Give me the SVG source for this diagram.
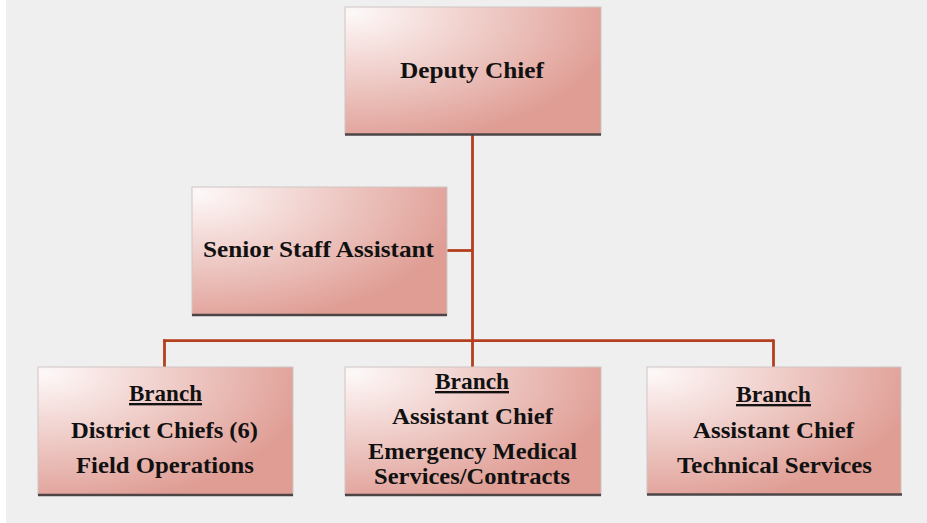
<svg xmlns="http://www.w3.org/2000/svg" width="927" height="523" viewBox="0 0 927 523">
  <defs>
    <radialGradient id="boxFill" cx="0.03" cy="0.05" r="1.05" fx="0.03" fy="0.05">
      <stop offset="0" stop-color="#fdf8f8"/>
      <stop offset="0.45" stop-color="#f0cfcb"/>
      <stop offset="1" stop-color="#df9d94"/>
    </radialGradient>
    <style>
      .box { fill: url(#boxFill); stroke: #cfc6c6; stroke-width: 1; }
      .shadow { stroke: #4d4545; stroke-width: 2.5; fill: none; }
      .link { stroke: #b33f1f; stroke-width: 2.8; fill: none; stroke-linecap: butt; }
      .label { font-family: "Liberation Serif", "Times New Roman", serif; font-weight: bold; font-size: 23.5px; fill: #111111; text-anchor: middle; }
      .head { text-decoration: underline; }
    </style>
  </defs>

  <!-- page -->
  <rect x="0" y="0" width="927" height="523" fill="#efefef"/>
  <rect x="0" y="0" width="6" height="523" fill="#ffffff"/>

  <!-- reporting lines -->
  <g id="connectors">
    <line class="link" x1="472.5" y1="134" x2="472.5" y2="367"/>
    <line class="link" x1="447" y1="250.5" x2="472.5" y2="250.5"/>
    <line class="link" x1="163" y1="340.7" x2="774" y2="340.7"/>
    <line class="link" x1="164.5" y1="339.5" x2="164.5" y2="367"/>
    <line class="link" x1="773.5" y1="339.5" x2="773.5" y2="367"/>
  </g>

  <g id="deputy-chief">
    <rect class="box" x="345" y="7" width="256" height="127"/>
    <line class="shadow" x1="345" y1="134.5" x2="601" y2="134.5"/>
    <text class="label" x="472" y="78" textLength="144" lengthAdjust="spacingAndGlyphs">Deputy Chief</text>
  </g>

  <g id="senior-staff-assistant">
    <rect class="box" x="192" y="187" width="255" height="128"/>
    <line class="shadow" x1="192" y1="315" x2="447" y2="315"/>
    <text class="label" x="318.5" y="257" textLength="231" lengthAdjust="spacingAndGlyphs">Senior Staff Assistant</text>
  </g>

  <g id="branch-field-operations">
    <rect class="box" x="38" y="367" width="255" height="128"/>
    <line class="shadow" x1="38" y1="495" x2="293" y2="495"/>
    <text class="label head" x="165.5" y="401" textLength="73" lengthAdjust="spacingAndGlyphs">Branch</text>
    <text class="label" x="164.5" y="438" textLength="187" lengthAdjust="spacingAndGlyphs">District Chiefs (6)</text>
    <text class="label" x="165" y="473" textLength="178" lengthAdjust="spacingAndGlyphs">Field Operations</text>
  </g>

  <g id="branch-ems-contracts">
    <rect class="box" x="345" y="367" width="256" height="128"/>
    <line class="shadow" x1="345" y1="495" x2="601" y2="495"/>
    <text class="label head" x="472" y="389" textLength="74" lengthAdjust="spacingAndGlyphs">Branch</text>
    <text class="label" x="472.5" y="424" textLength="161" lengthAdjust="spacingAndGlyphs">Assistant Chief</text>
    <text class="label" x="472.5" y="459" textLength="209" lengthAdjust="spacingAndGlyphs">Emergency Medical</text>
    <text class="label" x="472" y="484" textLength="196" lengthAdjust="spacingAndGlyphs">Services/Contracts</text>
  </g>

  <g id="branch-technical-services">
    <rect class="box" x="647" y="367" width="254" height="127"/>
    <line class="shadow" x1="647" y1="494.5" x2="902" y2="494.5"/>
    <text class="label head" x="773.5" y="402" textLength="75" lengthAdjust="spacingAndGlyphs">Branch</text>
    <text class="label" x="773.5" y="438" textLength="161" lengthAdjust="spacingAndGlyphs">Assistant Chief</text>
    <text class="label" x="774.5" y="473" textLength="195" lengthAdjust="spacingAndGlyphs">Technical Services</text>
  </g>
</svg>
